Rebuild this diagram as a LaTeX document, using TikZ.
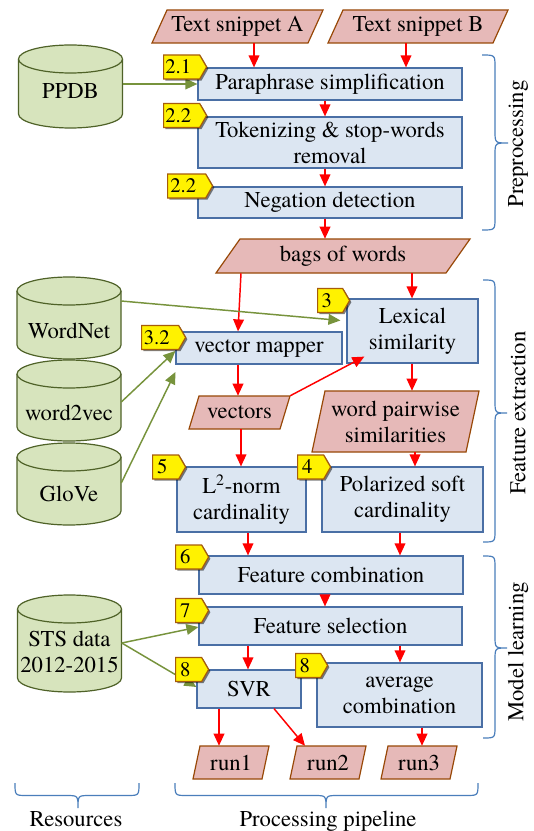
\documentclass[tikz,border=0pt]{standalone}
\usepackage{fontspec}
\setmainfont{TeX Gyre Termes}
\usetikzlibrary{shapes.symbols,shadows,arrows.meta,calc}
\definecolor{boxfill}{HTML}{DCE6F2}
\definecolor{boxline}{HTML}{4A6FA5}
\definecolor{parafill}{HTML}{E6B9B8}
\definecolor{paraline}{HTML}{984807}
\definecolor{cylfill}{HTML}{D7E4BD}
\definecolor{cylline}{HTML}{4F6228}
\definecolor{greenarr}{HTML}{77933C}
\definecolor{tagline}{HTML}{A65C0A}
\definecolor{braceblue}{HTML}{4A7EBB}
\pgfdeclarelayer{background}
\pgfsetlayers{background,main}
\newcommand{\mybox}[6]{%
  \node[box, minimum width={(#4-#2)*0.75pt}, minimum height={(#5-#3)*0.75pt}] (#1) at ({(#2+#4)/2},{(#3+#5)/2}) {#6};}
\newcommand{\mypara}[7]{%
  \draw[parastyle] (#2,#5) -- ({#2+#6},#4) -- (#3,#4) -- ({#3-#6},#5) -- cycle;
  \node[inner sep=0pt, align=center, minimum width={(#3-#2-#6)*0.75pt}, minimum height={(#5-#4)*0.75pt}] (#1) at ({(#2+#3)/2},{(#4+#5)/2}) {#7};}
\newcommand{\mycyl}[6]{%
  \filldraw[cylstyle] ({#2-52},{#3+14}) -- ({#2-52},{#4-14}) arc[start angle=180,end angle=360,x radius=39pt,y radius=10.5pt] -- ({#2+52},{#3+14}) arc[start angle=0,end angle=180,x radius=39pt,y radius=10.5pt] -- cycle;
  \draw[cylstyle] ({#2-52},{#3+14}) arc[start angle=180,end angle=360,x radius=39pt,y radius=10.5pt];
  \node[inner sep=0pt, minimum width=78pt, minimum height={(#4-#3)*0.75pt}, label={[yshift=#6, align=center]center:{#5}}] (#1) at (#2,{(#3+#4)/2}) {};}
\newcommand{\myvbrace}[5]{%
  \draw[bracestyle] (#1,#3) .. controls ({(#1+#2)/2},#3) .. ({(#1+#2)/2},{#3+12}) -- ({(#1+#2)/2},{#4-12}) .. controls ({(#1+#2)/2},#4) .. (#2,#4) .. controls ({(#1+#2)/2},#4) .. ({(#1+#2)/2},{#4+12}) -- ({(#1+#2)/2},{#5-12}) .. controls ({(#1+#2)/2},#5) .. (#1,#5);}
\newcommand{\myhbrace}[5]{%
  \draw[bracestyle] (#1,#4) .. controls (#1,{(#4+#5)/2}) .. ({#1+12},{(#4+#5)/2}) -- ({#2-12},{(#4+#5)/2}) .. controls (#2,{(#4+#5)/2}) .. (#2,#5) .. controls (#2,{(#4+#5)/2}) .. ({#2+12},{(#4+#5)/2}) -- ({#3-12},{(#4+#5)/2}) .. controls (#3,{(#4+#5)/2}) .. (#3,#4);}
\begin{document}
\begin{tikzpicture}[x=0.75pt,y=-0.75pt,
  every node/.style={font=\fontsize{17}{19.5}\selectfont},
  box/.style={draw=boxline, fill=boxfill, line width=0.9pt, align=center, inner sep=0pt},
  parastyle/.style={draw=paraline, fill=parafill, line width=0.9pt},
  cylstyle/.style={draw=cylline, fill=cylfill, line width=0.9pt},
  bracestyle/.style={draw=braceblue, line width=0.9pt},
  ra/.style={draw=red, line width=1.1pt, -{Triangle[length=9pt,width=8pt]}},
  ga/.style={draw=greenarr, line width=1.1pt, -{Triangle[length=9pt,width=8pt]}},
  tag/.style={signal, signal to=east, signal pointer angle=120, draw=tagline, fill=yellow, line width=0.9pt, inner sep=0pt, minimum height=18pt, anchor=west, font=\fontsize{15.5}{16}\selectfont, execute at begin node={\hspace*{-5pt}}, drop shadow={shadow xshift=1.3pt, shadow yshift=-1.3pt, opacity=0.5, fill=black}}]
\useasboundingbox[fill=white] (0,0) rectangle (533,831);

% resources
\mycyl{ppdb}{70.5}{45}{128}{PPDB}{-3.5pt}
\mycyl{wn}{69}{277}{359}{WordNet}{-10pt}
\mycyl{wv}{69}{360}{441}{word2vec}{-9pt}
\mycyl{gl}{69}{443}{525}{GloVe}{-7.5pt}
\mycyl{sts}{69.5}{595}{692}{STS data\\2012-2015}{-6.4pt}

% data
\mypara{ta}{152}{323}{10}{43}{15}{Text snippet A}
\mypara{tb}{328}{508}{10}{43}{15}{Text snippet B}
\mypara{bags}{216}{470}{239}{273}{24}{bags of words}
\mypara{vec}{189}{290}{396}{429}{10}{vectors}
\mypara{wp}{312}{479}{391}{452}{13}{word pairwise\\similarities}
\mypara{r1}{193}{269}{746}{779}{7}{run1}
\mypara{r2}{290}{366}{746}{779}{7}{run2}
\mypara{r3}{381}{457}{746}{779}{7}{run3}

% processes
\mybox{para}{198}{68}{462}{100}{Paraphrase simplification}
\mybox{tok}{198}{117}{462}{168}{Tokenizing \& stop-words\\removal}
\mybox{neg}{198}{187}{462}{218}{Negation detection}
\mybox{lex}{347}{299}{478}{363}{Lexical\\similarity}
\mybox{vm}{176}{332}{342}{364}{vector mapper}
\mybox{l2}{177}{467}{306}{532}{L\textsuperscript{2}-norm\\cardinality}
\mybox{pol}{322}{467}{483}{532}{Polarized soft\\cardinality}
\mybox{comb}{199}{556}{463}{594}{Feature combination}
\mybox{sel}{199}{607}{462}{645}{Feature selection}
\mybox{svr}{197}{670}{301}{708}{SVR}
\mybox{avg}{317}{663}{482}{727}{average\\combination}

% red flow
\draw[ra] (ta.south -| 254,0) -- (para.north -| 254,0);
\draw[ra] (tb.south -| 406,0) -- (para.north -| 406,0);
\draw[ra] (para.south -| 325,0) -- (tok.north -| 325,0);
\draw[ra] (tok.south -| 325,0) -- (neg.north -| 325,0);
\draw[ra] (neg.south -| 325,0) -- (bags.north -| 325,0);
\draw[ra] (bags.south -| 241,0) -- (vm.north -| 238,0);
\draw[ra] (bags.south -| 412,0) -- (lex.north -| 412,0);
\begin{pgfonlayer}{background}
\draw[ra] (bags.south -| 381,0) -- (pol.north -| 381,0);
\end{pgfonlayer}
\draw[ra] (lex.south -| 412,0) -- (wp.north -| 412,0);
\draw[ra] (wp.south -| 415,0) -- (pol.north -| 415,0);
\draw[ra] (vm.south -| 238,0) -- (vec.north -| 238,0);
\draw[ra] ([xshift=3.75pt]vec.north east) -- ($(lex.south west)+(18,-7)$);
\draw[ra] (vec.south -| 241,0) -- (l2.north -| 241,0);
\draw[ra] (l2.south -| 248,0) -- (comb.north -| 248,0);
\draw[ra] (pol.south -| 400,0) -- (comb.north -| 400,0);
\draw[ra] (comb.south -| 325,0) -- (sel.north -| 325,0);
\draw[ra] (sel.south -| 248,0) -- (svr.north -| 248,0);
\draw[ra] (sel.south -| 400,0) -- (avg.north -| 400,0);
\draw[ra] (svr.south -| 219,0) -- (r1.north -| 219,0);
\draw[ra] (svr.south -| 274,0) -- (r2.north -| 305,0);
\draw[ra] (avg.south -| 422,0) -- (r3.north -| 422,0);

% green resource links
\draw[ga] (ppdb.east |- para.west) -- (para.west);
\draw[ga, shorten >=4.5pt] (wn.east |- 0,301) -- (lex.west |- 0,321);
\draw[ga] (wv.east |- 0,402) -- (vm.west |- 0,351);
\draw[ga] (gl.east |- 0,483) -- (vm.south west |- 0,372);
\draw[ga] (sts.east |- 0,643) -- (sel.west |- 0,627);
\draw[ga] (sts.east |- 0,643) -- (svr.west |- 0,687);

% section tags
\node[tag, minimum width=32.25pt] (t21) at (163,67) {2.1};
\node[tag, minimum width=32.25pt] (t22a) at (163,115.5) {2.2};
\node[tag, minimum width=33.75pt] (t22b) at (167,186) {2.2};
\node[tag, minimum width=24pt] (t3) at (317,300.5) {3};
\node[tag, minimum width=33pt] (t32) at (141,337.5) {3.2};
\node[tag, minimum width=24.75pt] (t5) at (152,467) {5};
\node[tag, minimum width=24.75pt] (t4) at (297,467) {4};
\node[tag, minimum width=24.75pt] (t6) at (175,557) {6};
\node[tag, minimum width=24.75pt] (t7) at (175,610.5) {7};
\node[tag, minimum width=24.75pt] (t8a) at (175,669.5) {8};
\node[tag, minimum width=24pt] (t8b) at (295,665.5) {8};

% braces and group labels
\myvbrace{482}{508}{55}{143}{230}
\myvbrace{483}{507}{280}{413}{542}
\myvbrace{483}{507}{556}{648}{738}
\myhbrace{15}{78}{139}{783}{808}
\myhbrace{175}{326}{478}{783}{808}
\node[rotate=90] (lpre) at (518,144) {Preprocessing};
\node[rotate=90] (lfe) at (518,413) {Feature extraction};
\node[rotate=90] (lml) at (518,652) {Model learning};
\node[anchor=base] (lres) at (76,826) {Resources};
\node[anchor=base] (lpp) at (328,826) {Processing pipeline};
\end{tikzpicture}
\end{document}
